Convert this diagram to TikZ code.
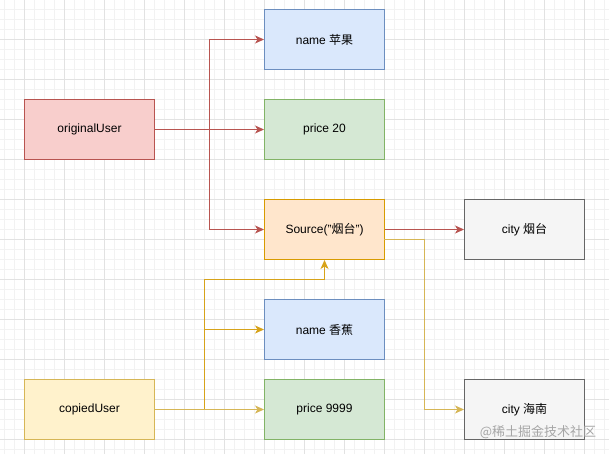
\documentclass[tikz,border=0pt]{standalone}
\usepackage{fontspec}
\setmainfont{Liberation Sans}
\newfontfamily\cjk{Noto Sans CJK SC}
\usetikzlibrary{arrows.meta}
\definecolor{redfill}{HTML}{F8CECC}
\definecolor{redline}{HTML}{B85450}
\definecolor{bluefill}{HTML}{DAE8FC}
\definecolor{blueline}{HTML}{6C8EBF}
\definecolor{greenfill}{HTML}{D5E8D4}
\definecolor{greenline}{HTML}{82B366}
\definecolor{orangefill}{HTML}{FFE6CC}
\definecolor{orangeline}{HTML}{D79B00}
\definecolor{yellowfill}{HTML}{FFF2CC}
\definecolor{yellowline}{HTML}{D6B656}
\definecolor{grayfill}{HTML}{F5F5F5}
\definecolor{grayline}{HTML}{666666}
\definecolor{gridminor}{HTML}{F2F2F2}
\definecolor{gridmajor}{HTML}{E2E2E2}
\begin{document}
\begin{tikzpicture}[x=1pt,y=-1pt,
  font=\fontsize{12}{14}\selectfont,
  box/.style={draw, line width=1pt, minimum width=120pt, minimum height=60pt, inner sep=0pt, anchor=north west},
  wide/.style={minimum width=130pt},
  redbox/.style={box, fill=redfill, draw=redline},
  bluebox/.style={box, fill=bluefill, draw=blueline},
  greenbox/.style={box, fill=greenfill, draw=greenline},
  orangebox/.style={box, fill=orangefill, draw=orangeline},
  yellowbox/.style={box, fill=yellowfill, draw=yellowline},
  graybox/.style={box, fill=grayfill, draw=grayline},
  conn/.style={line width=1pt, -{Stealth[length=9pt,width=8pt,inset=2.5pt]}},
]
\useasboundingbox (0,0) rectangle (609,454);
\fill[white] (0,0) rectangle (609,454);
% grid
\foreach \x in {4,14,...,604} \draw[gridminor, line width=0.6pt] (\x,0) -- (\x,454);
\foreach \y in {9,19,...,449} \draw[gridminor, line width=0.6pt] (0,\y) -- (609,\y);
\foreach \x in {24,64,...,584} \draw[gridmajor, line width=0.8pt] (\x,0) -- (\x,454);
\foreach \y in {39,79,...,439} \draw[gridmajor, line width=0.8pt] (0,\y) -- (609,\y);

% nodes
\node[redbox, wide] (ou) at (24,99) {originalUser};
\node[yellowbox, wide] (cu) at (24,379) {copiedUser};
\node[bluebox] (n1) at (264,9) {name {\cjk 苹果}};
\node[greenbox] (p1) at (264,99) {price 20};
\node[orangebox] (src) at (264,199) {Source("{\cjk 烟台}")};
\node[bluebox] (n2) at (264,299) {name {\cjk 香蕉}};
\node[greenbox] (p2) at (264,379) {price 9999};
\node[graybox] (c1) at (464,199) {city {\cjk 烟台}};
\node[graybox] (c2) at (464,379) {city {\cjk 海南}};

% red connectors
\coordinate (rj) at (209,129);
\draw[conn, redline] (ou.east) -- (p1.west);
\draw[conn, redline] (rj) |- (n1.west);
\draw[conn, redline] (rj) |- (src.west);
\draw[conn, redline] (src.east) -- (c1.west);

% yellow connectors
\coordinate (yj) at (204,409);
\coordinate (yt) at (204,279);
\draw[conn, yellowline] (cu.east) -- (p2.west);
\draw[conn, orangeline!70!yellowline] (yj) |- (n2.west);
\draw[conn, orangeline!70!yellowline] (yj) -- (yt) -| (src.south);
\coordinate (se) at (384,239);
\coordinate (sc) at (424,239);
\draw[conn, yellowline] (se) -- (sc) |- (c2.west);

% watermark
\node[text=black!35, font=\cjk\fontsize{13}{15}\selectfont, anchor=center] (wm) at (538,432) {@稀土掘金技术社区};
\end{tikzpicture}
\end{document}
